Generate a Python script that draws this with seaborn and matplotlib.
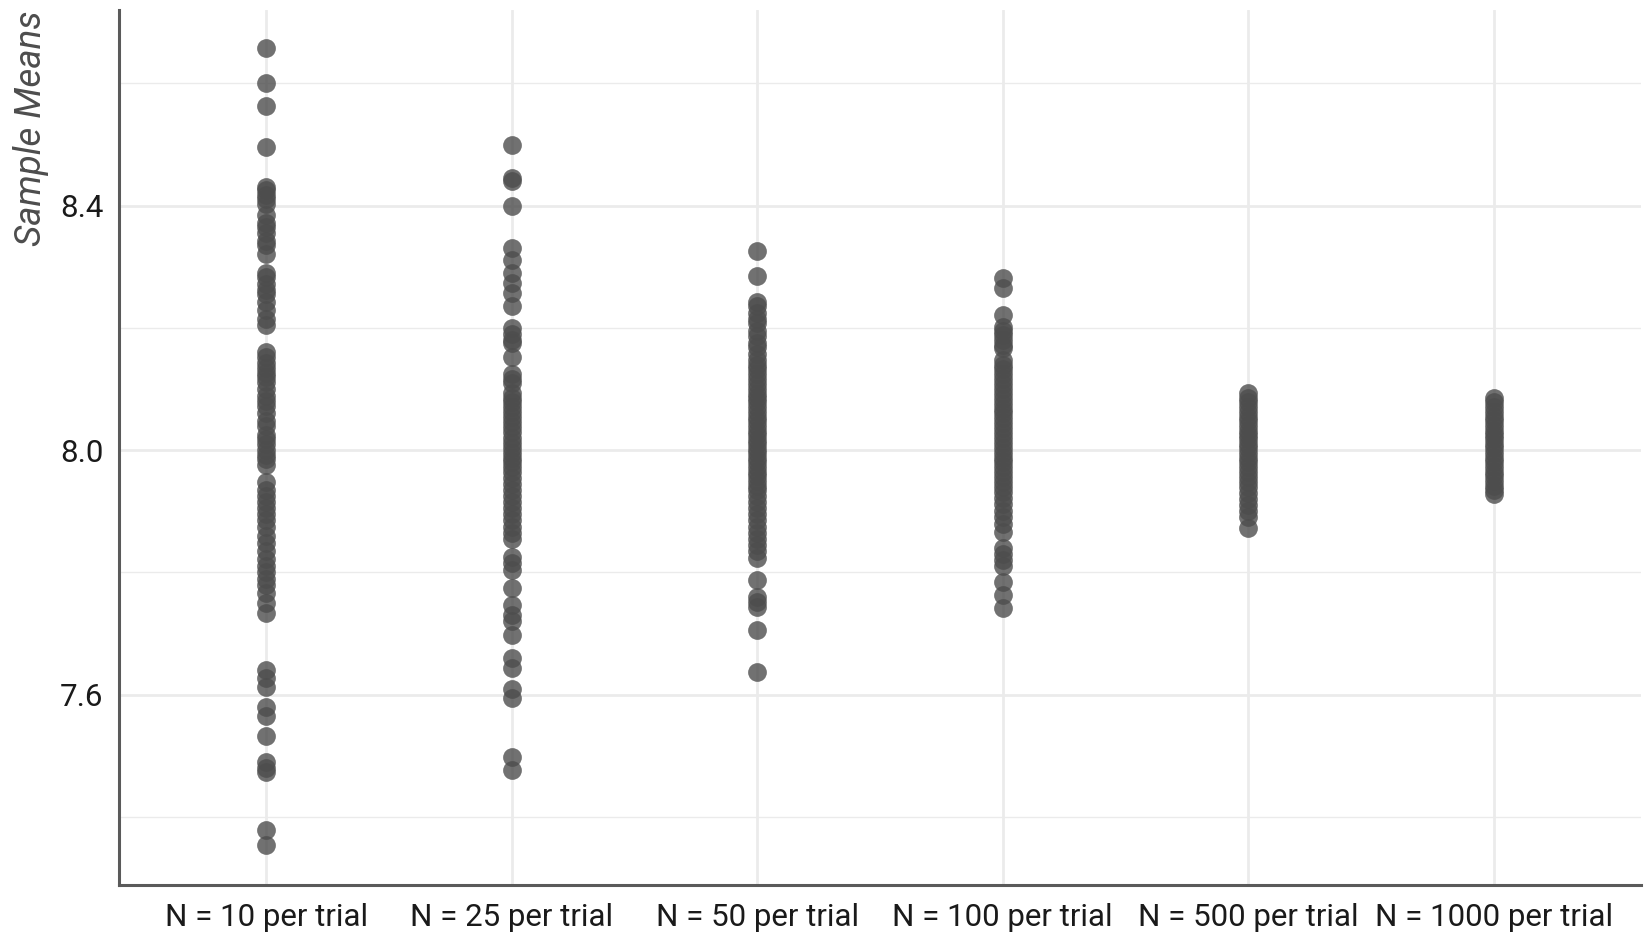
import pandas as pd
import matplotlib.pyplot as plt
import seaborn as sns

# sample means, one list per sample size
categories = ['N = 10 per trial', 'N = 25 per trial', 'N = 50 per trial',
              'N = 100 per trial', 'N = 500 per trial', 'N = 1000 per trial']

n10 = [8.657, 8.601, 8.563, 8.495, 8.430, 8.425, 8.418, 8.410, 8.402, 8.385,
       8.372, 8.365, 8.355, 8.342, 8.335, 8.320, 8.290, 8.283, 8.272, 8.262,
       8.255, 8.243, 8.230, 8.215, 8.205, 8.160, 8.152, 8.143, 8.135, 8.127,
       8.120, 8.112, 8.100, 8.088, 8.080, 8.072, 8.060, 8.048, 8.040, 8.025,
       8.018, 8.010, 8.000, 7.992, 7.985, 7.975, 7.948, 7.935, 7.925, 7.915,
       7.905, 7.895, 7.885, 7.875, 7.860, 7.848, 7.835, 7.822, 7.810, 7.800,
       7.790, 7.780, 7.766, 7.750, 7.733, 7.640, 7.627, 7.613, 7.580, 7.565,
       7.532, 7.490, 7.480, 7.474, 7.379, 7.355]
n25 = [8.499, 8.445, 8.440, 8.400, 8.331, 8.311, 8.290, 8.274, 8.257, 8.236,
       8.200, 8.190, 8.180, 8.175, 8.153, 8.124, 8.117, 8.110, 8.094, 8.085,
       8.078, 8.070, 8.062, 8.055, 8.046, 8.038, 8.030, 8.020, 8.012, 8.004,
       7.996, 7.988, 7.980, 7.972, 7.965, 7.955, 7.945, 7.935, 7.925, 7.915,
       7.905, 7.895, 7.885, 7.875, 7.865, 7.854, 7.826, 7.815, 7.804, 7.775,
       7.747, 7.730, 7.720, 7.698, 7.660, 7.644, 7.610, 7.594, 7.499, 7.477]
n50 = [8.325, 8.285, 8.243, 8.235, 8.224, 8.215, 8.208, 8.195, 8.186, 8.175,
       8.169, 8.158, 8.148, 8.140, 8.132, 8.124, 8.116, 8.108, 8.100, 8.092,
       8.085, 8.078, 8.070, 8.062, 8.055, 8.047, 8.040, 8.032, 8.025, 8.017,
       8.010, 8.002, 7.995, 7.987, 7.980, 7.972, 7.965, 7.957, 7.950, 7.942,
       7.935, 7.925, 7.915, 7.905, 7.895, 7.885, 7.875, 7.865, 7.855, 7.845,
       7.835, 7.824, 7.788, 7.760, 7.752, 7.744, 7.706, 7.638]
n100 = [8.282, 8.265, 8.221, 8.202, 8.195, 8.188, 8.180, 8.172, 8.167, 8.148,
        8.140, 8.132, 8.124, 8.116, 8.108, 8.100, 8.092, 8.084, 8.076, 8.068,
        8.060, 8.052, 8.044, 8.036, 8.028, 8.020, 8.012, 8.004, 7.996, 7.988,
        7.980, 7.972, 7.964, 7.956, 7.948, 7.940, 7.932, 7.922, 7.912, 7.900,
        7.890, 7.880, 7.866, 7.840, 7.830, 7.820, 7.810, 7.785, 7.763, 7.742]
n500 = [8.093, 8.085, 8.078, 8.070, 8.062, 8.055, 8.047, 8.040, 8.032, 8.025,
        8.018, 8.010, 8.003, 7.996, 7.988, 7.980, 7.972, 7.964, 7.956, 7.948,
        7.940, 7.930, 7.920, 7.910, 7.900, 7.890, 7.873]
n1000 = [8.086, 8.078, 8.070, 8.062, 8.055, 8.047, 8.040, 8.032, 8.025, 8.018,
         8.010, 8.003, 7.996, 7.988, 7.980, 7.972, 7.965, 7.957, 7.950, 7.942,
         7.935, 7.928]

y_ticks = [7.6, 8.0, 8.4]
y_minor = [7.4, 7.8, 8.2, 8.6]


def build_frame():
    series = [n10, n25, n50, n100, n500, n1000]
    rows = []
    for cat, vals in zip(categories, series):
        for v in vals:
            rows.append({'Sample': cat, 'Mean': v})
    return pd.DataFrame(rows)


def plot_strip(df, output_file_path):
    sns.set_style('white')
    plt.rcParams['font.family'] = ['Roboto', 'DejaVu Sans']
    fig = plt.figure(figsize=(16.5, 9.35), dpi=100)
    ax = fig.add_axes([0.0721, 0.0535, 0.9224, 0.9353])

    sns.stripplot(data=df, x='Sample', y='Mean', order=categories, jitter=False,
                  color='#4d4d4d', alpha=0.8, size=13.5, linewidth=0, ax=ax, zorder=3)

    ax.set_xlim(-0.6, 5.6)
    ax.set_ylim(7.289, 8.719)
    ax.set_yticks(y_ticks)
    ax.set_yticks(y_minor, minor=True)
    ax.set_yticklabels(['7.6', '8.0', '8.4'])

    # grid after stripplot, which switches the categorical grid off
    ax.grid(True, which='major', axis='both', color='#ebebeb', linewidth=2.0, zorder=0)
    ax.grid(True, which='minor', axis='y', color='#ebebeb', linewidth=1.0, zorder=0)
    ax.set_axisbelow(True)

    ax.set_xlabel('')
    ax.set_ylabel('Sample Means', fontsize=26.5, style='italic', color='#4d4d4d',
                  loc='top', labelpad=8)
    ax.tick_params(axis='both', which='major', labelsize=22.5, length=6, width=1.6,
                   color='#4d4d4d', labelcolor='#1a1a1a', pad=5)
    ax.tick_params(axis='x', which='major', pad=7)
    ax.tick_params(axis='y', which='minor', length=0)

    for side in ['top', 'right']:
        ax.spines[side].set_visible(False)
    for side in ['left', 'bottom']:
        ax.spines[side].set_color('#5a5a5a')
        ax.spines[side].set_linewidth(2.2)

    fig.savefig(output_file_path, dpi=100)
    plt.close(fig)


if __name__ == "__main__":
    df = build_frame()
    plot_strip(df, "out.png")
